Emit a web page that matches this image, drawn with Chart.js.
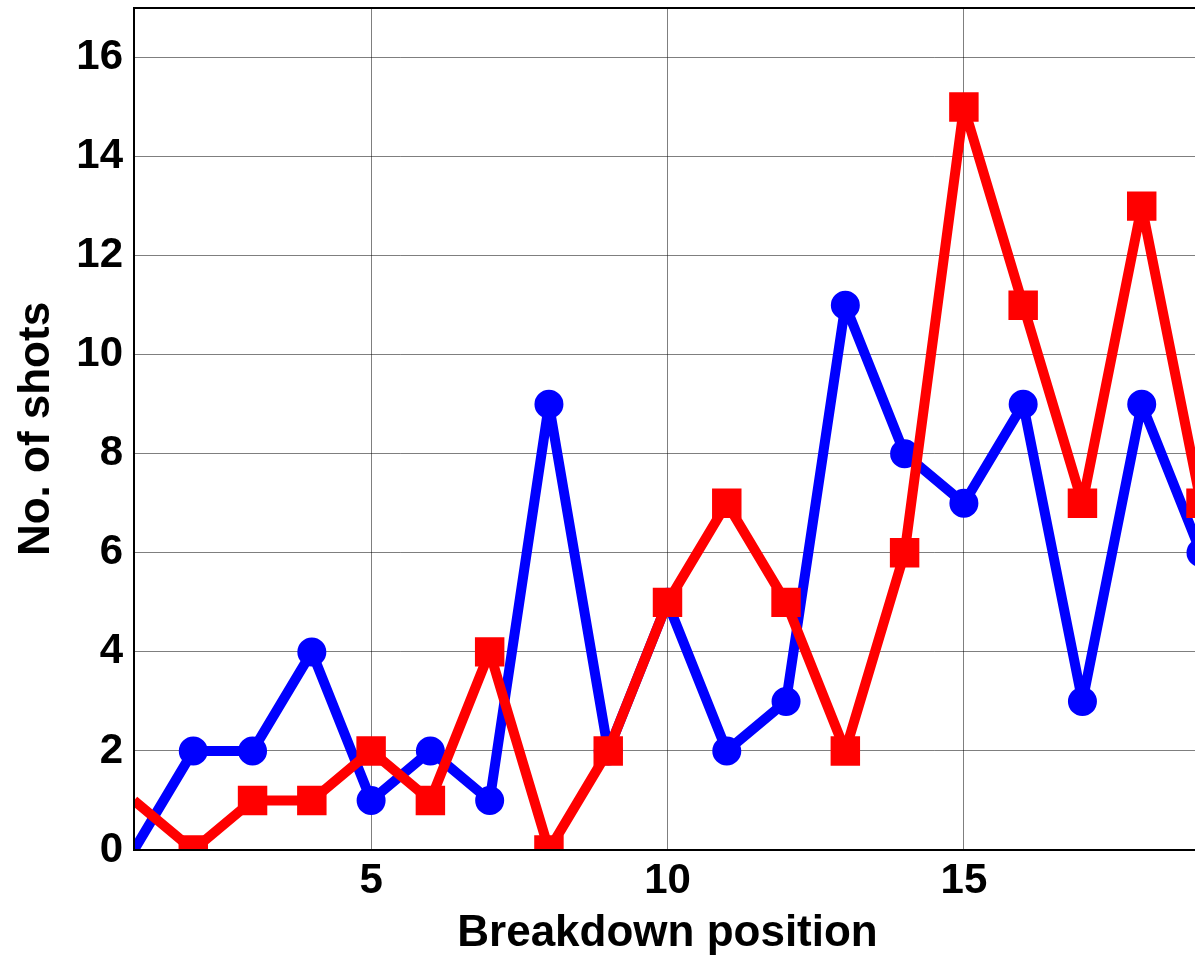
<!DOCTYPE html>
<html>
<head>
<meta charset="utf-8">
<script src="https://cdn.jsdelivr.net/npm/chart.js@4"></script>
<style>
    html, body { margin: 0; padding: 0; background: #fff; overflow: hidden; }
    /* a touch wider than the window: the plot's right edge falls just outside it */
    #wrap { width: 1201px; height: 960px; }
</style>
</head>
<body>
<div id="wrap"><canvas id="shotsChart"></canvas></div>
<script>
// Chart data
const positions = [1, 2, 3, 4, 5, 6, 7, 8, 9, 10, 11, 12, 13, 14, 15, 16, 17, 18, 19];
const blueShots = [0, 2, 2, 4, 1, 2, 1, 9, 2, 5, 2, 3, 11, 8, 7, 9, 3, 9, 6];
const redShots = [1, 0, 1, 1, 2, 1, 4, 0, 2, 5, 7, 5, 2, 6, 15, 11, 7, 13, 7];
const xTicks = [5, 10, 15];
const yTicks = [0, 2, 4, 6, 8, 10, 12, 14, 16];

const FONT = '"Liberation Sans", Arial, sans-serif';

function toPoints(values) {
    return positions.map((x, i) => ({ x: x, y: values[i] }));
}

// Frame round the plot area (top border etc.)
const framePlugin = {
    id: 'frame',
    afterDraw(chart) {
        const a = chart.chartArea;
        const ctx = chart.ctx;
        ctx.save();
        ctx.strokeStyle = '#000';
        ctx.lineWidth = 2;
        ctx.strokeRect(a.left, a.top, a.right - a.left, a.bottom - a.top);
        ctx.restore();
    }
};

const ctx = document.getElementById('shotsChart');

new Chart(ctx, {
    type: 'line',
    data: {
        datasets: [
            {
                label: 'Red',
                data: toPoints(redShots),
                borderColor: '#ff0000',
                backgroundColor: '#ff0000',
                borderWidth: 10,
                borderJoinStyle: 'round',
                pointStyle: 'rect',
                pointRadius: c => c.dataIndex === 0 ? 0 : 18,
                pointBorderWidth: 4,
                pointBackgroundColor: '#ff0000',
                pointBorderColor: '#ff0000',
                tension: 0,
                order: 0
            },
            {
                label: 'Blue',
                data: toPoints(blueShots),
                borderColor: '#0000ff',
                backgroundColor: '#0000ff',
                borderWidth: 10,
                borderJoinStyle: 'round',
                pointStyle: 'circle',
                pointRadius: c => c.dataIndex === 0 ? 0 : 13,
                pointBorderWidth: 3,
                pointBackgroundColor: '#0000ff',
                pointBorderColor: '#0000ff',
                tension: 0,
                order: 1
            }
        ]
    },
    options: {
        responsive: true,
        maintainAspectRatio: false,
        animation: false,
        layout: { autoPadding: false, padding: { top: 8, right: 0, left: 0, bottom: 0 } },
        plugins: {
            legend: { display: false },
            tooltip: { enabled: false }
        },
        scales: {
            x: {
                type: 'linear',
                min: 1,
                max: 19,
                afterBuildTicks: axis => { axis.ticks = xTicks.map(v => ({ value: v })); },
                afterFit: scale => {
                    scale.height = 110;
                    scale.paddingLeft = 0;
                    scale.paddingRight = 0;
                },
                grid: { color: 'rgba(0,0,0,0.5)', lineWidth: 1, drawTicks: false },
                border: { display: false },
                ticks: {
                    color: '#000',
                    padding: 6,
                    maxRotation: 0,
                    font: { family: FONT, size: 42, weight: 'bold' }
                },
                title: {
                    display: true,
                    text: 'Breakdown position',
                    color: '#000',
                    padding: { top: 0, bottom: 0 },
                    font: { family: FONT, size: 44, weight: 'bold' }
                }
            },
            y: {
                min: 0,
                max: 17,
                afterBuildTicks: axis => { axis.ticks = yTicks.map(v => ({ value: v })); },
                afterFit: scale => {
                    scale.width = 134;
                    scale.paddingTop = 0;
                    scale.paddingBottom = 0;
                },
                grid: { color: 'rgba(0,0,0,0.5)', lineWidth: 1, drawTicks: false },
                border: { display: false },
                ticks: {
                    color: '#000',
                    padding: 11,
                    font: { family: FONT, size: 42, weight: 'bold' }
                },
                title: {
                    display: true,
                    text: 'No. of shots',
                    color: '#000',
                    padding: { top: 10, bottom: 0 },
                    font: { family: FONT, size: 44, weight: 'bold' }
                }
            }
        }
    },
    plugins: [framePlugin]
});
</script>
</body>
</html>
